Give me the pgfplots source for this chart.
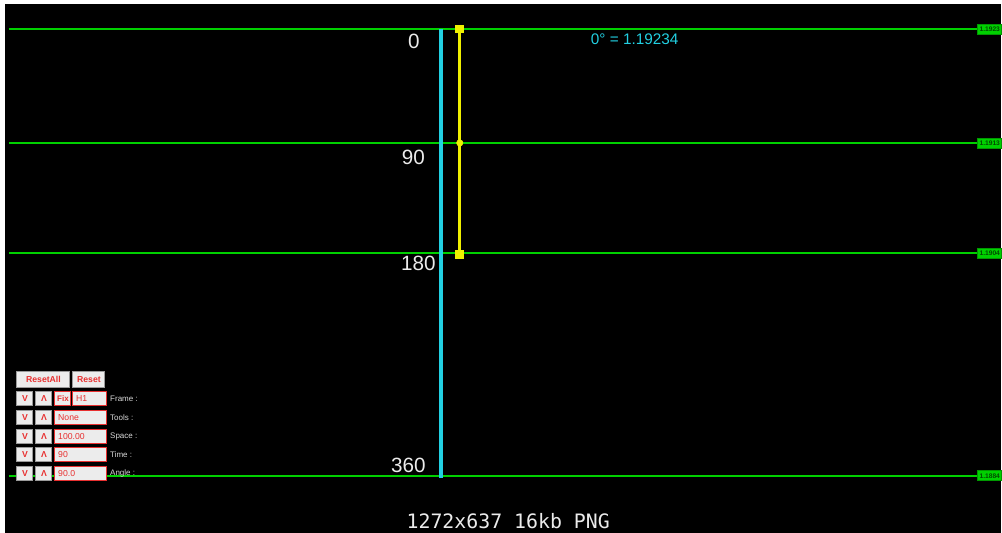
\documentclass[border=0pt]{standalone}
\usepackage{pgfplots}
\pgfplotsset{compat=1.18}
\usepackage{fontspec}
\setmainfont{Liberation Sans}
\newfontfamily\monofont{DejaVu Sans Mono}
\definecolor{lgreen}{HTML}{00D000}
\definecolor{lcyan}{HTML}{22D0E2}
\definecolor{lyellow}{HTML}{F0F000}
\definecolor{bred}{HTML}{E83030}
\definecolor{bgray}{HTML}{9A9A9A}
\definecolor{bfill}{HTML}{ECECEC}
\newcommand\btn[5]{%
  \draw[bgray, fill=bfill, line width=0.75pt] (axis cs:#1,#2) rectangle (axis cs:#3,#4);
  \path (axis cs:#1,#2) -- (axis cs:#3,#4) node[midway, text=bred, inner sep=0, font=\fontsize{6.5}{6.5}\selectfont\bfseries] {#5};}
\newcommand\rbtn[5]{%
  \draw[bred, fill=bfill, line width=0.75pt] (axis cs:#1,#2) rectangle (axis cs:#3,#4);
  \path (axis cs:#1,#2) -- (axis cs:#3,#4) node[midway, text=bred, inner sep=0, font=\fontsize{6}{6}\selectfont\bfseries] {#5};}
\newcommand\fld[5]{%
  \draw[bred, fill=bfill, line width=0.75pt] (axis cs:#1,#2) rectangle (axis cs:#3,#4);
  \node[anchor=west, text=bred, inner sep=0, font=\fontsize{6.5}{6.5}\selectfont] at (axis cs:#1+3,{#2+7}) {#5};}
\begin{document}
\begin{tikzpicture}
\begin{axis}[scale only axis, width=751.5pt, height=399.75pt,
  xmin=0, xmax=1002, ymin=0, ymax=533, y dir=reverse, hide axis, clip=false]
\fill[white] (axis cs:0,0) rectangle (axis cs:1002,533);
\fill[black] (axis cs:5,4) rectangle (axis cs:1002,533);
% horizontal levels
\addplot[lgreen, line width=1.6pt] coordinates {(9,29) (979,29)};
\addplot[lgreen, line width=1.6pt] coordinates {(9,143) (979,143)};
\addplot[lgreen, line width=1.6pt] coordinates {(9,253) (979,253)};
\addplot[lgreen, line width=1.6pt] coordinates {(9,476) (979,476)};
% right price tags
\node[fill=lgreen, draw=green!60!black, line width=0.4pt, inner sep=0, minimum width=18pt, minimum height=7.5pt, anchor=west, text=black!70!green, font=\fontsize{5}{5}\selectfont\bfseries] at (axis cs:978,29) {1.1923};
\node[fill=lgreen, draw=green!60!black, line width=0.4pt, inner sep=0, minimum width=18pt, minimum height=7.5pt, anchor=west, text=black!70!green, font=\fontsize{5}{5}\selectfont\bfseries] at (axis cs:978,143) {1.1913};
\node[fill=lgreen, draw=green!60!black, line width=0.4pt, inner sep=0, minimum width=18pt, minimum height=7.5pt, anchor=west, text=black!70!green, font=\fontsize{5}{5}\selectfont\bfseries] at (axis cs:978,253) {1.1904};
\node[fill=lgreen, draw=green!60!black, line width=0.4pt, inner sep=0, minimum width=18pt, minimum height=7.5pt, anchor=west, text=black!70!green, font=\fontsize{5}{5}\selectfont\bfseries] at (axis cs:978,476) {1.1884};
% cyan time axis
\addplot[lcyan, line width=3pt] coordinates {(441,29) (441,478)};
% yellow segment
\addplot[lyellow, line width=2.2pt, mark=square*, mark size=2.2pt] coordinates {(460,29) (460,255)};
\addplot[lyellow, only marks, mark=*, mark size=2.4pt] coordinates {(460,143)};
% degree labels
\node[text=white!92!black, font=\fontsize{15.5}{18}\selectfont] at (axis cs:414,41) {0};
\node[text=white!92!black, font=\fontsize{15.5}{18}\selectfont] at (axis cs:413.5,157) {90};
\node[text=white!92!black, font=\fontsize{15.5}{18}\selectfont] at (axis cs:418.5,264) {180};
\node[text=white!92!black, font=\fontsize{15.5}{18}\selectfont] at (axis cs:408.5,466) {360};
\node[text=lcyan, font=\fontsize{11.5}{14}\selectfont] at (axis cs:635,39) {0° = 1.19234};
\node[text=white!92!black, font=\monofont\fontsize{14.9}{18}\selectfont] at (axis cs:508.5,521) {1272x637 16kb PNG};
% control panel
\btn{17}{372}{70}{388}{ResetAll}
\btn{73}{372}{105}{388}{Reset}
\btn{17}{392}{33}{406}{V}
\btn{36}{392}{52}{406}{Λ}
\rbtn{55}{392}{71}{406}{Fix}
\fld{73}{392}{107}{406}{H1}
\btn{17}{411}{33}{425}{V}
\btn{36}{411}{52}{425}{Λ}
\fld{55}{411}{107}{425}{None}
\btn{17}{430}{33}{444}{V}
\btn{36}{430}{52}{444}{Λ}
\fld{55}{430}{107}{444}{100.00}
\btn{17}{448}{33}{462}{V}
\btn{36}{448}{52}{462}{Λ}
\fld{55}{448}{107}{462}{90}
\btn{17}{467}{33}{481}{V}
\btn{36}{467}{52}{481}{Λ}
\fld{55}{467}{107}{481}{90.0}
\node[anchor=west, text=white!85!black, inner sep=0, font=\fontsize{6}{6}\selectfont] at (axis cs:110,399) {Frame :};
\node[anchor=west, text=white!85!black, inner sep=0, font=\fontsize{6}{6}\selectfont] at (axis cs:110,418) {Tools :};
\node[anchor=west, text=white!85!black, inner sep=0, font=\fontsize{6}{6}\selectfont] at (axis cs:110,437) {Space :};
\node[anchor=west, text=white!85!black, inner sep=0, font=\fontsize{6}{6}\selectfont] at (axis cs:110,455) {Time :};
\node[anchor=west, text=white!85!black, inner sep=0, font=\fontsize{6}{6}\selectfont] at (axis cs:110,474) {Angle :};
\end{axis}
\end{tikzpicture}
\end{document}
